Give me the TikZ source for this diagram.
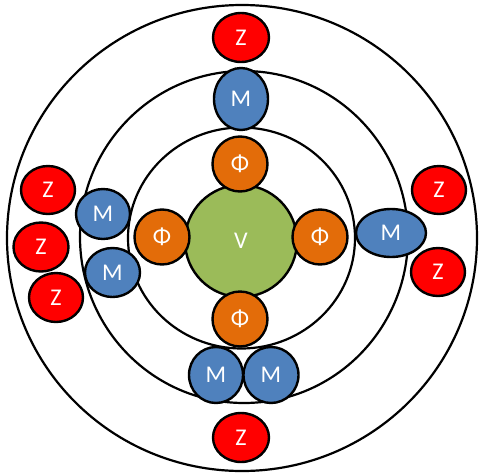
\documentclass[tikz,border=0pt]{standalone}
\usepackage{fontspec}
\setmainfont{Carlito}
\usetikzlibrary{shapes.geometric}
\definecolor{zred}{HTML}{FF0000}
\definecolor{mblue}{HTML}{4F81BD}
\definecolor{phor}{HTML}{E36C09}
\definecolor{vgreen}{HTML}{9BBB59}
\begin{document}
\begin{tikzpicture}[x=1pt,y=-1pt,
  ring/.style={draw=black,line width=2.2pt},
  blob/.style={ellipse,draw=black,line width=2.4pt,inner sep=0pt,text=white,font=\fontsize{24}{24}\selectfont},
  zb/.style={blob,fill=zred,minimum width=54pt,minimum height=48pt},
  mb/.style={blob,fill=mblue,minimum width=54pt,minimum height=50pt},
  pb/.style={blob,fill=phor,minimum width=55pt,minimum height=55pt},
  vb/.style={blob,fill=vgreen,minimum width=112pt,minimum height=112pt}]
\useasboundingbox (0,0) rectangle (480,472);
\draw[ring] (242,238) ellipse [x radius=235, y radius=233];
\draw[ring] (244,237) ellipse [x radius=164, y radius=166];
\draw[ring] (241.5,238) ellipse [x radius=113.5, y radius=110.5];
\node[vb] (v) at (241,241) {V};
\node[pb] (p1) at (240,164) {Φ};
\node[pb] (p2) at (162,237) {Φ};
\node[pb] (p3) at (320,237) {Φ};
\node[pb] (p4) at (240,319) {Φ};
\node[mb,minimum height=62pt] (m1) at (241,99) {M};
\node[mb,minimum height=56pt] (m2) at (216,375) {M};
\node[mb,minimum height=56pt,minimum width=55pt] (m3) at (271,375) {M};
\node[mb,minimum width=70pt,minimum height=48pt] (m4) at (391,233) {M};
\node[mb] (m5) at (103,214) {M};
\node[mb,minimum width=55pt,minimum height=49pt] (m6) at (112.5,272.5) {M};
\node[zb,minimum width=56pt,minimum height=49pt] (z1) at (241,37.5) {Z};
\node[zb,minimum width=56pt,minimum height=49pt] (z2) at (241,437.5) {Z};
\node[zb] (z3) at (439,190) {Z};
\node[zb] (z4) at (438,272) {Z};
\node[zb] (z5) at (48,190) {Z};
\node[zb,minimum width=55pt,minimum height=49pt] (z6) at (41,247) {Z};
\node[zb,minimum height=49pt] (z7) at (56,297.5) {Z};
\end{tikzpicture}
\end{document}
